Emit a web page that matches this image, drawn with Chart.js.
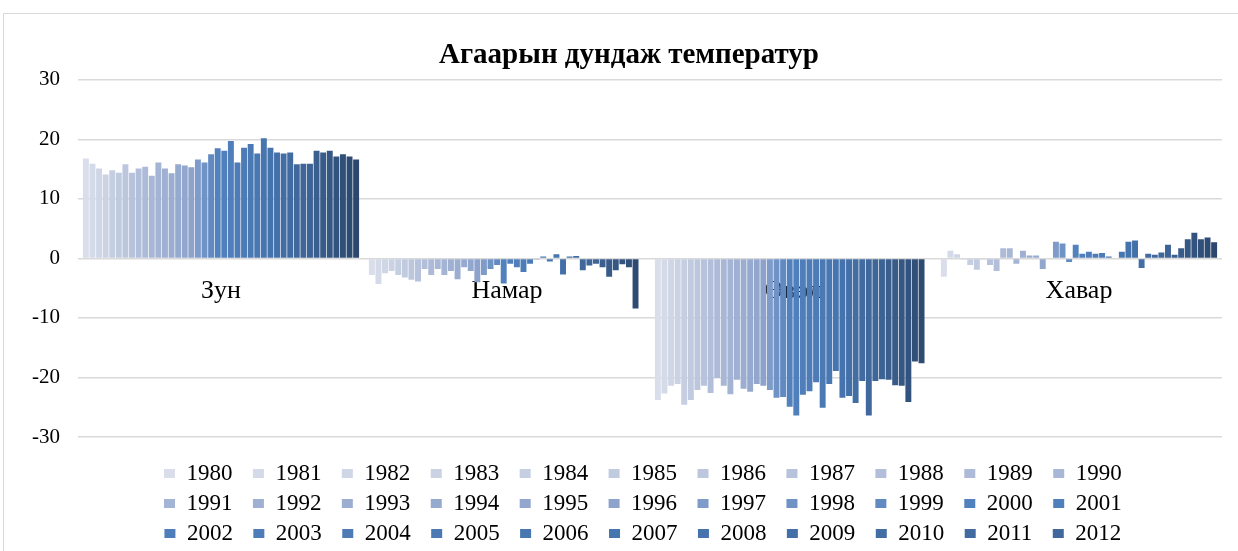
<!DOCTYPE html>
<html>
<head>
<meta charset="utf-8">
<script src="https://cdn.jsdelivr.net/npm/chart.js@4/dist/chart.umd.min.js"></script>
<style>
  html, body { margin: 0; padding: 0; background: #fff; overflow: hidden; width: 1238px; height: 551px; }
  #frame { position: absolute; left: 3px; top: 13px; width: 1240px; height: 700px; border: 1px solid #d9d9d9; box-sizing: border-box; }
  #wrap { position: absolute; left: 0; top: 0; width: 1238px; height: 585px; }
</style>
</head>
<body>
<div id="frame"></div>
<div id="wrap"><canvas id="c" width="1238" height="585"></canvas></div>
<script>
const title = 'Агаарын дундаж температур';
const seasons = ['Зун', 'Намар', 'Өвөл', 'Хавар'];
const yTicks = [30, 20, 10, 0, -10, -20, -30];
const years = [1980,1981,1982,1983,1984,1985,1986,1987,1988,1989,1990,1991,1992,1993,1994,1995,1996,1997,1998,1999,2000,
               2001,2002,2003,2004,2005,2006,2007,2008,2009,2010,2011,2012,2013,2014,2015,2016,2017,2018,2019,2020,2021];

const zun   = [16.8,15.9,15.1,14.1,14.8,14.4,15.8,14.4,15.1,15.4,13.9,16.1,15.1,14.3,15.8,15.6,15.3,16.6,16.1,17.5,18.5,
               18.1,19.7,16.1,18.6,19.2,17.6,20.2,18.6,17.8,17.6,17.8,15.8,15.9,15.9,18.1,17.8,18.1,17.1,17.5,17.1,16.6];
const namar = [-2.8,-4.3,-2.5,-2.1,-2.8,-3.2,-3.6,-3.9,-1.8,-2.8,-1.8,-2.8,-2.1,-3.5,-1.5,-2.1,-4.0,-2.8,-1.8,-1.1,-4.2,
               -0.9,-1.5,-2.3,-0.9,-0.2,0.3,-0.5,0.7,-2.7,0.3,0.4,-2.0,-1.2,-0.9,-1.5,-3.1,-2.0,-1.0,-1.5,-8.4,null];
const uvul  = [-23.8,-22.7,-21.4,-21.1,-24.6,-23.8,-22.1,-21.4,-22.6,-20.1,-21.4,-22.8,-20.4,-21.9,-22.4,-21.1,-21.4,-22.1,-23.4,-23.3,-24.9,
               -26.4,-22.9,-22.3,-20.8,-25.1,-21.1,-18.9,-23.4,-23.1,-24.3,-20.6,-26.4,-20.6,-20.3,-20.4,-21.3,-21.4,-24.1,-17.3,-17.6,null];
const khavar= [-3.1,1.3,0.7,-0.1,-1.1,-1.9,-0.1,-1.1,-2.1,1.7,1.7,-0.9,1.3,0.5,0.5,-1.8,0.1,2.8,2.5,-0.6,2.3,
               0.8,1.1,0.8,0.9,0.3,0.1,1.1,2.8,3.0,-1.6,0.8,0.6,1.0,2.3,0.6,1.7,3.2,4.3,3.2,3.5,2.7];

// colour ramp (style only)
const stops = [[0,[217,222,234]],[10,[169,183,214]],[16,[141,163,204]],[20,[82,130,190]],[28,[69,115,173]],[34,[61,99,149]],[41,[43,71,110]]];
function rampColor(i){
  for (let s = 0; s < stops.length - 1; s++){
    const [a, ca] = stops[s], [b, cb] = stops[s+1];
    if (i >= a && i <= b){
      const t = (i - a) / (b - a);
      const c = ca.map((v, k) => Math.round(v + (cb[k] - v) * t));
      return `rgb(${c[0]},${c[1]},${c[2]})`;
    }
  }
  return 'rgb(43,71,110)';
}

const datasets = years.map((y, i) => ({
  label: String(y),
  data: [zun[i], namar[i], uvul[i], khavar[i]],
  backgroundColor: rampColor(i),
  borderWidth: 0,
  categoryPercentage: 0.968,
  barPercentage: 0.9
}));

const SERIF = "'Liberation Serif', 'Times New Roman', serif";
const LEG_W = 1050, LEG_FIRST_X = 164, LEG_PAD = 7, TITLE_SHIFT = 22;

const layoutTweaks = {
  id: 'layoutTweaks',
  afterInit(chart){
    const lg = chart.legend;
    const orig = lg.update.bind(lg);
    lg.update = (w, h, m) => orig(Math.min(w, LEG_W), h, m);
  },
  afterLayout(chart){
    const lg = chart.legend;
    const left = LEG_FIRST_X - (LEG_PAD + LEG_W - lg.lineWidths[0]) / 2;
    lg.left = left; lg.right = left + LEG_W; lg.width = LEG_W;
    chart.titleBlock.left += TITLE_SHIFT;
  }
};

new Chart(document.getElementById('c'), {
  type: 'bar',
  data: { labels: seasons, datasets },
  plugins: [layoutTweaks],
  options: {
    responsive: false,
    animation: false,
    events: [],
    layout: { padding: { left: 14, right: 16, top: 0, bottom: 0 } },
    plugins: {
      title: {
        display: true, text: title, color: '#000',
        font: { family: SERIF, size: 29, weight: 'bold' },
        padding: { top: 38, bottom: 7 }
      },
      legend: {
        position: 'bottom',
        title: { display: true, text: '', font: { size: 10 }, padding: 3 },
        labels: {
          color: '#000',
          font: { family: SERIF, size: 23 },
          boxWidth: 11, boxHeight: 9, padding: LEG_PAD,
          generateLabels(chart){
            const items = Chart.defaults.plugins.legend.labels.generateLabels(chart);
            items.forEach(it => { it.text = it.text + '  \u200A'; it.lineWidth = 0; });
            return items;
          }
        }
      },
      tooltip: { enabled: false }
    },
    scales: {
      x: {
        position: { y: 0 },
        z: 1,
        grid: { display: false, drawTicks: false },
        border: { display: false },
        ticks: { color: '#000', font: { family: SERIF, size: 26 }, padding: 17, maxRotation: 0 }
      },
      y: {
        min: -30, max: 30,
        afterBuildTicks(scale){ scale.ticks = yTicks.map(v => ({ value: v })); },
        grid: { color: '#d9d9d9', lineWidth: 1.5, drawTicks: false },
        border: { display: false },
        ticks: { color: '#000', font: { family: SERIF, size: 21 }, padding: 18 }
      }
    }
  }
});
</script>
</body>
</html>
